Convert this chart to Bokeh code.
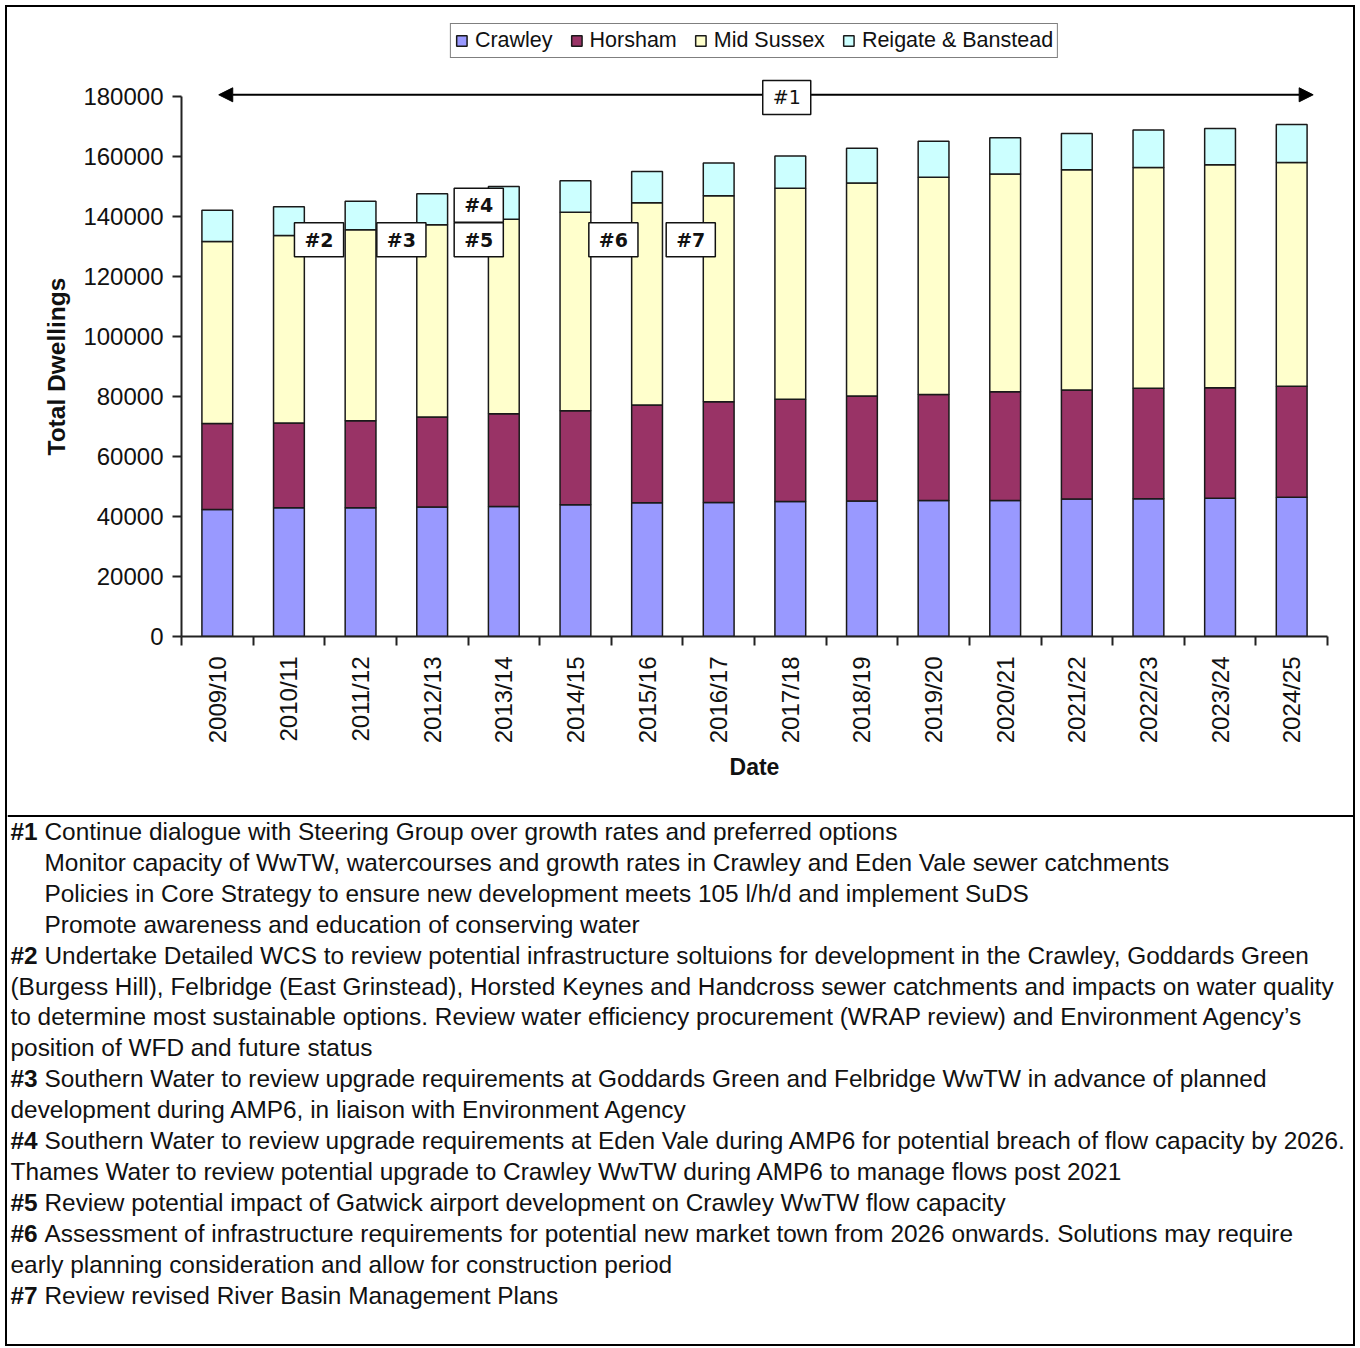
import math
from bokeh.plotting import figure
from bokeh.layouts import column
from bokeh.models import (Range1d, FixedTicker, NumeralTickFormatter, Label, Arrow, Title,
                          NormalHead, Span, Legend, LegendItem, ColumnDataSource)
from bokeh.embed import file_html
from bokeh.resources import INLINE

# ---------------- data ----------------
periods = ["2009/10", "2010/11", "2011/12", "2012/13", "2013/14", "2014/15", "2015/16", "2016/17",
           "2017/18", "2018/19", "2019/20", "2020/21", "2021/22", "2022/23", "2023/24", "2024/25"]
crawley = [42300, 42900, 42900, 43200, 43300, 43900, 44600, 44700,
           45000, 45200, 45300, 45300, 45800, 45900, 46100, 46400]
horsham = [28700, 28300, 29000, 30000, 31000, 31400, 32600, 33600,
           34100, 35000, 35400, 36300, 36400, 36900, 36800, 37000]
mid_sussex = [60700, 62500, 63700, 64100, 64800, 66100, 67400, 68600,
              70300, 71000, 72400, 72600, 73400, 73600, 74400, 74600]
reigate = [10400, 9600, 9500, 10300, 10900, 10500, 10400, 11000,
           10800, 11600, 12000, 12100, 12100, 12500, 12100, 12700]
series_names = ["Crawley", "Horsham", "Mid Sussex", "Reigate & Banstead"]
series_colors = ["#9999FF", "#993366", "#FFFFCC", "#CCFFFF"]
y_ticks = [0, 20000, 40000, 60000, 80000, 100000, 120000, 140000, 160000, 180000]

callout_tags = ["#2", "#3", "#4", "#5", "#6", "#7"]

note_tags = ["#1", "#2", "#3", "#4", "#5", "#6", "#7"]
note_texts = [
    ["Continue dialogue with Steering Group over growth rates and preferred options",
     "Monitor capacity of WwTW, watercourses and growth rates in Crawley and Eden Vale sewer catchments",
     "Policies in Core Strategy to ensure new development meets 105 l/h/d and implement SuDS",
     "Promote awareness and education of conserving water"],
    ["Undertake Detailed WCS to review potential infrastructure soltuions for development in the Crawley, Goddards Green",
     "(Burgess Hill), Felbridge (East Grinstead), Horsted Keynes and Handcross sewer catchments and impacts on water quality",
     "to determine most sustainable options.  Review water efficiency procurement (WRAP review) and Environment Agency\u2019s",
     "position of WFD and future status"],
    ["Southern Water to review upgrade requirements at Goddards Green and Felbridge WwTW in advance of planned",
     "development during AMP6, in liaison with Environment Agency"],
    ["Southern Water to review upgrade requirements at Eden Vale during AMP6 for potential breach of flow capacity by 2026.",
     "Thames Water to review potential upgrade to Crawley WwTW during AMP6 to manage flows post 2021"],
    ["Review potential impact of Gatwick airport development on Crawley WwTW flow capacity"],
    ["Assessment of infrastructure requirements for potential new market town from 2026 onwards.  Solutions may require",
     "early planning consideration and allow for construction period"],
    ["Review revised River Basin Management Plans"],
]

# ---------------- chart figure ----------------
FONT = "Liberation Sans"
W = 1346
HA = 807
HB = 530
Y_TOP = 206700  # headroom above the 180000 tick for the legend and the #1 arrow

xs = [i + 0.5 for i in range(len(periods))]
src = ColumnDataSource(dict(x=xs, **dict(zip(series_names, [crawley, horsham, mid_sussex, reigate]))))

p = figure(width=W, height=HA, output_backend="svg", toolbar_location=None,
           x_range=Range1d(0, len(periods)), y_range=Range1d(0, Y_TOP),
           min_border_left=174, min_border_right=26, min_border_top=9, min_border_bottom=178)
p.frame_align = False
p.outline_line_color = None
p.grid.visible = False
p.background_fill_color = "white"
p.border_fill_color = "white"

rs = p.vbar_stack(series_names, x="x", width=0.43, source=src, fill_color=series_colors,
                  line_color="#1a1a1a", line_width=1.5)

# y axis
ya = p.yaxis[0]
ya.bounds = (0, 180000)
ya.ticker = FixedTicker(ticks=y_ticks)
ya.formatter = NumeralTickFormatter(format="0")
ya.axis_line_width = 2
ya.axis_line_color = "#222222"
ya.major_tick_line_width = 2
ya.major_tick_line_color = "#222222"
ya.major_tick_out = 9
ya.major_tick_in = 0
ya.minor_tick_line_color = None
ya.major_label_text_font = FONT
ya.major_label_text_font_size = "24px"
ya.major_label_text_color = "#111111"
ya.major_label_standoff = 9

# y axis title, centred on the 0-180000 span of the axis
p.add_layout(Title(text="Total Dwellings", align="left", offset=181, vertical_align="top",
                   standoff=18, text_font=FONT, text_font_style="bold",
                   text_font_size="24.5px", text_color="#111111"), "left")

# x axis
xa = p.xaxis[0]
xa.ticker = FixedTicker(ticks=xs, minor_ticks=list(range(len(periods) + 1)))
xa.major_label_overrides = {x: lab for x, lab in zip(xs, periods)}
xa.major_label_orientation = math.pi / 2
xa.axis_line_width = 2
xa.axis_line_color = "#222222"
xa.major_tick_line_color = None
xa.major_tick_out = 0
xa.major_tick_in = 0
xa.minor_tick_line_color = "#222222"
xa.minor_tick_line_width = 2
xa.minor_tick_out = 9
xa.minor_tick_in = 0
xa.major_label_text_font = FONT
xa.major_label_text_font_size = "24px"
xa.major_label_text_color = "#111111"
xa.major_label_standoff = 11
xa.axis_label = "Date"
xa.axis_label_text_font = FONT
xa.axis_label_text_font_style = "bold"
xa.axis_label_text_font_size = "23px"
xa.axis_label_text_color = "#111111"
xa.axis_label_standoff = 8

# legend
legend = Legend(items=[LegendItem(label=n, renderers=[r]) for n, r in zip(series_names, rs)],
                orientation="horizontal", location="top_center", margin=7,
                border_line_color="black", border_line_width=1.5,
                background_fill_color="white", background_fill_alpha=1,
                label_text_font=FONT, label_text_font_size="21.5px", label_text_color="#111111",
                glyph_width=13, glyph_height=13, label_standoff=7, spacing=17, padding=4)
p.add_layout(legend)

# #1 arrow spanning the whole period
p.add_layout(Arrow(start=NormalHead(size=14, fill_color="black", line_color="black"),
                   end=NormalHead(size=14, fill_color="black", line_color="black"),
                   x_start=0.52, x_end=15.8, y_start=180600, y_end=180600,
                   line_width=2, line_color="black"))

def callout(tag, x, y, bold=True):
    p.add_layout(Label(x=x, y=y, text=tag, text_font="DejaVu Sans",
                       text_font_style="bold" if bold else "normal",
                       text_font_size="19px", text_align="center", text_baseline="middle",
                       text_color="#111111", background_fill_color="white",
                       border_line_color="#111111", border_line_width=1.5, padding=(10, 6)))

callout("#1", 8.45, 179700, bold=False)
callout_pos = [(1.92, 132300), (3.07, 132300), (4.15, 143800), (4.15, 132300), (6.03, 132300), (7.11, 132300)]
for tag, (cx, cy) in zip(callout_tags, callout_pos):
    callout(tag, cx, cy)

# ---------------- notes figure ----------------
q = figure(width=W, height=HB, output_backend="svg", toolbar_location=None,
           x_range=Range1d(0, W), y_range=Range1d(HB, 0),
           x_axis_type=None, y_axis_type=None,
           min_border_left=0, min_border_right=0, min_border_top=0, min_border_bottom=0)
q.frame_align = False
q.outline_line_color = None
q.grid.visible = False
q.background_fill_color = "white"
q.border_fill_color = "white"
q.add_layout(Span(location=1.5, dimension="width", line_color="black", line_width=2))

NOTE_SIZE = "24.4px"
y0, dy = 17, 30.9
row = 0
for tag, lines in zip(note_tags, note_texts):
    for k, line in enumerate(lines):
        yy = y0 + dy * row
        if k == 0:
            q.add_layout(Label(x=3, y=yy, text=tag,
                               text_font=FONT, text_font_style="bold", text_font_size=NOTE_SIZE,
                               text_baseline="middle", text_color="#111111"))
            tx = 37
        else:
            tx = 37 if tag == "#1" else 3
        q.add_layout(Label(x=tx, y=yy, text=line,
                           text_font=FONT, text_font_size=NOTE_SIZE,
                           text_baseline="middle", text_color="#111111"))
        row += 1

layout = column(p, q, spacing=0, margin=(5, 0, 0, 5), styles={"border": "2px solid black"})

open("out.html", "w").write(file_html(layout, INLINE))
